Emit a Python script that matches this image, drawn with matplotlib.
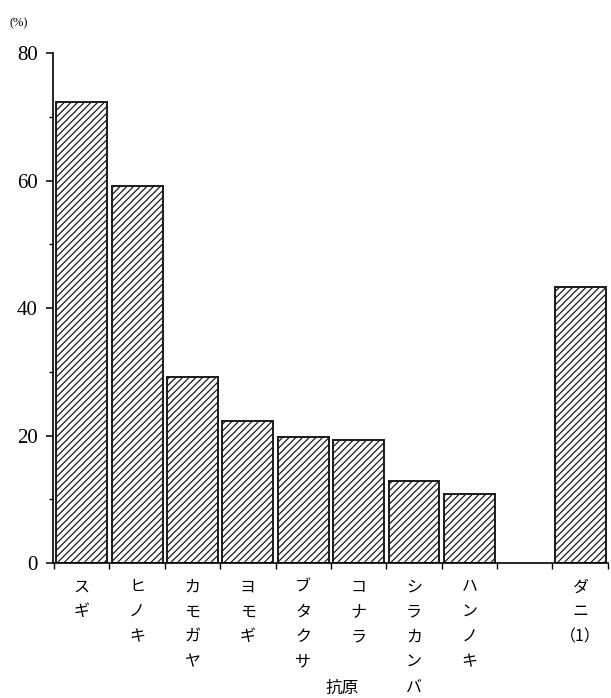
import numpy as np
import matplotlib.pyplot as plt
from matplotlib.ticker import MultipleLocator

plt.rcParams['font.family'] = ['Noto Sans CJK JP', 'DejaVu Sans']
plt.rcParams['hatch.linewidth'] = 0.9

# data
antigens = ["スギ", "ヒノキ", "カモガヤ", "ヨモギ", "ブタクサ", "コナラ", "シラカンバ", "ハンノキ", "ダニ"]
label_extra = ["", "", "", "", "", "", "", "", "（1）"]
rates = [72.3, 59.1, 29.2, 22.3, 19.8, 19.3, 12.9, 10.8, 43.3]
gap_before = 8  # empty slot before the mite bar

pos = np.array([i if i < gap_before else i + 1 for i in range(len(antigens))])
labels = []
for name, extra in zip(antigens, label_extra):
    s = "\n".join(name)
    if extra:
        s += "\n" + extra
    labels.append(s)

fig = plt.figure(figsize=(6.11, 6.98), dpi=100)
ax = fig.add_axes([0.0867, 0.1934, 0.908, 0.7306])

ax.bar(pos, rates, width=0.92, color='white', edgecolor='#1a1a1a',
       linewidth=1.4, hatch='/////')

ax.set_xlim(-0.52, 9.5)
ax.set_ylim(0, 80)
ax.spines['top'].set_visible(False)
ax.spines['right'].set_visible(False)
ax.spines['left'].set_linewidth(1.2)
ax.spines['bottom'].set_linewidth(1.2)

ax.yaxis.set_major_locator(MultipleLocator(20))
ax.yaxis.set_minor_locator(MultipleLocator(10))
ax.tick_params(axis='y', which='major', length=5, width=1.1, labelsize=15, pad=6)
ax.tick_params(axis='y', which='minor', length=3, width=1.0)
for t in ax.get_yticklabels():
    t.set_fontfamily(['Liberation Serif'])

ax.set_xticks(pos)
ax.set_xticklabels(labels, fontsize=11.5, linespacing=1.62, va='top')
ax.set_xticks(np.arange(-0.5, 10, 1.0), minor=True)
ax.tick_params(axis='x', which='major', length=0, pad=11)
ax.tick_params(axis='x', which='minor', length=4, width=1.0)

fig.text(0.56, 0.002, "抗原", fontsize=12, ha='center', va='bottom')
fig.text(0.015, 0.967, "(%)", fontsize=9, ha='left', va='center',
         family=['Liberation Serif'])

fig.savefig("out.png", dpi=100)
